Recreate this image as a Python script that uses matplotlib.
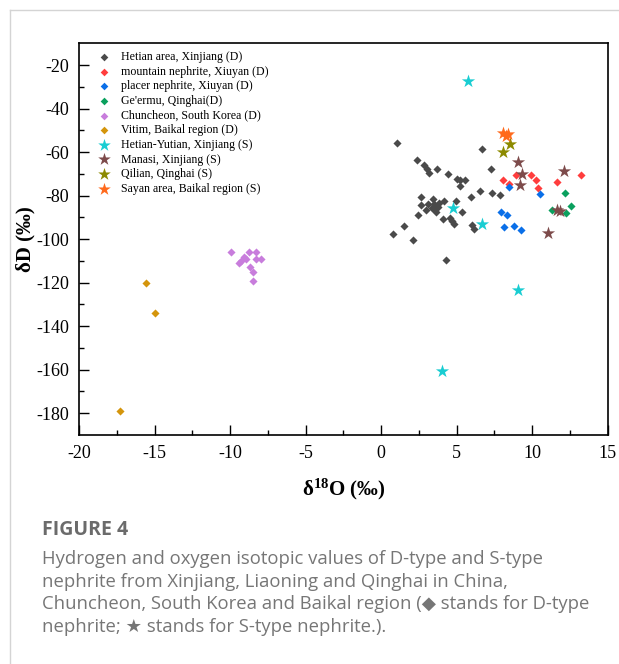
import matplotlib
matplotlib.use("Agg")
import matplotlib.pyplot as plt
from matplotlib.lines import Line2D

plt.rcParams["font.family"] = ["Liberation Serif", "DejaVu Serif"]
plt.rcParams["axes.unicode_minus"] = False
plt.rcParams["mathtext.fontset"] = "custom"
plt.rcParams["mathtext.rm"] = "Liberation Serif"
plt.rcParams["mathtext.bf"] = "Liberation Serif:bold"
plt.rcParams["mathtext.it"] = "Liberation Serif:italic"

# ---------------- data ----------------
hetian_x = [1.07, 6.67, 2.36, 2.84, 3.02, 3.19, 3.68, 4.45, 5.01, 5.19, 5.56, 5.23, 7.27, 6.56,
            5.96, 7.33, 7.84, 2.64, 2.62, 3.13, 3.44, 3.82, 4.18, 4.97, 2.94, 3.50, 3.66, 3.53,
            5.36, 2.46, 4.08, 4.57, 4.68, 4.82, 6.01, 6.12, 1.54, 0.76, 2.13, 4.28, 3.35, 3.75]
hetian_y = [-56.0, -58.4, -63.7, -66.1, -67.6, -69.5, -67.9, -69.9, -72.1, -73.0, -73.0, -75.7, -67.6, -77.7,
            -80.8, -78.8, -79.5, -80.8, -84.5, -83.8, -81.6, -83.4, -82.3, -82.6, -86.7, -86.3, -87.6, -84.0,
            -87.4, -88.8, -90.8, -90.2, -91.8, -93.2, -93.7, -95.3, -93.8, -97.6, -100.4, -109.5, -85.5, -85.0]

mountain_x = [8.04, 8.44, 8.93, 9.95, 10.26, 10.37, 11.65, 13.24]
mountain_y = [-72.6, -74.6, -70.6, -70.6, -72.6, -76.4, -73.6, -70.6]

placer_x = [8.44, 10.54, 7.95, 8.33, 8.15, 8.77, 9.26]
placer_y = [-76.0, -79.2, -87.3, -89.1, -94.5, -94.1, -95.8]

geermu_x = [12.16, 12.54, 11.31, 12.27]
geermu_y = [-78.8, -84.9, -86.8, -88.0]

korea_x = [-9.97, -8.76, -8.27, -9.11, -8.93, -9.26, -9.42, -8.27, -7.94, -8.67, -8.45, -8.45]
korea_y = [-106.0, -106.0, -106.0, -108.0, -109.0, -110.0, -111.0, -109.0, -109.0, -112.6, -115.0, -119.0]

vitim_x = [-15.57, -14.97, -17.30]
vitim_y = [-120.0, -134.0, -179.0]

yutian_x = [5.74, 4.73, 6.67, 9.04, 4.06]
yutian_y = [-27.4, -85.7, -93.1, -123.5, -160.5]

manasi_x = [9.04, 9.33, 9.22, 12.14, 11.05, 11.65, 11.87]
manasi_y = [-64.5, -70.2, -74.9, -68.7, -97.0, -86.6, -87.1]

qilian_x = [8.55, 8.04]
qilian_y = [-56.3, -59.9]

sayan_x = [8.10, 8.40, 8.25]
sayan_y = [-51.2, -51.8, -52.5]

labels = ["Hetian area, Xinjiang (D)", "mountain nephrite, Xiuyan (D)", "placer nephrite, Xiuyan (D)",
          "Ge'ermu, Qinghai(D)", "Chuncheon, South Korea (D)", "Vitim, Baikal region (D)",
          "Hetian-Yutian, Xinjiang (S)", "Manasi, Xinjiang (S)", "Qilian, Qinghai (S)",
          "Sayan area, Baikal region (S)"]

x_ticks = [-20, -15, -10, -5, 0, 5, 10, 15]
y_ticks = [-20, -40, -60, -80, -100, -120, -140, -160, -180]

caption_title = "FIGURE 4"
caption_lines = ["Hydrogen and oxygen isotopic values of D-type and S-type",
                 "nephrite from Xinjiang, Liaoning and Qinghai in China,",
                 "Chuncheon, South Korea and Baikal region (\u25c6 stands for D-type",
                 "nephrite; \u2605 stands for S-type nephrite.)."]

# ---------------- figure ----------------
W, H = 619, 664
fig = plt.figure(figsize=(W / 100, H / 100), dpi=100)
fig.patch.set_facecolor("white")

# card border lines
fig.add_artist(Line2D([10 / W, 10 / W], [0, 1 - 10 / H], color="#d4d4d4", lw=1.0))
fig.add_artist(Line2D([10 / W, 1], [1 - 10 / H, 1 - 10 / H], color="#d4d4d4", lw=1.0))

ax = fig.add_axes([79 / W, 1 - 435 / H, 528.7 / W, 391.6 / H])

d_kw = dict(marker="D", s=17, linewidths=0)
s_kw = dict(marker="*", s=100, linewidths=0)

series = [
    (hetian_x, hetian_y, "#4a4a4a", d_kw),
    (mountain_x, mountain_y, "#ff3d3d", d_kw),
    (placer_x, placer_y, "#0a6fe8", d_kw),
    (geermu_x, geermu_y, "#0aa05e", d_kw),
    (korea_x, korea_y, "#c87ddc", d_kw),
    (vitim_x, vitim_y, "#d4950c", d_kw),
    (yutian_x, yutian_y, "#19cdd2", s_kw),
    (manasi_x, manasi_y, "#7d4b4b", s_kw),
    (qilian_x, qilian_y, "#8c8a00", s_kw),
    (sayan_x, sayan_y, "#ff6a1c", s_kw),
]
for (xs, ys, c, kw), lab in zip(series, labels):
    ax.scatter(xs, ys, color=c, label=lab, zorder=3, **kw)

ax.set_xlim(-20, 15)
ax.set_ylim(-190, -10)
ax.set_xticks(x_ticks)
ax.set_yticks(y_ticks)
ax.set_xticks([-17.5, -12.5, -7.5, -2.5, 2.5, 7.5, 12.5], minor=True)
ax.set_yticks([-30, -50, -70, -90, -110, -130, -150, -170], minor=True)
ax.tick_params(which="major", direction="in", length=7, width=1.0, labelsize=13, pad=7)
ax.tick_params(which="minor", direction="in", length=3.5, width=1.0)
for sp in ax.spines.values():
    sp.set_linewidth(1.2)

ax.set_xlabel(r"δ$^{\mathbf{18}}$O (‰)", fontweight="bold", fontsize=15)
ax.set_ylabel("δD (‰)", fontweight="bold", fontsize=15)
ax.xaxis.set_label_coords(0.5, -(477 - 435) / 391.6)
ax.yaxis.set_label_coords(-(79 - 35) / 528.7, 0.5)

leg = ax.legend(loc="upper left", bbox_to_anchor=(0.019, 1.0), frameon=False,
                prop={"size": 8.6}, labelspacing=0.22,
                handletextpad=0.8, handlelength=1.2, borderaxespad=0.25, markerscale=0.95)

# caption
sans = "Open Sans"
fig.text(42 / W, 1 - 530 / H, caption_title, fontfamily=sans, fontweight="bold",
         fontsize=14, color="#6b6b6b", va="center", ha="left")
for i, line in enumerate(caption_lines):
    fig.text(42 / W, 1 - (559 + 22.6 * i) / H, line, fontfamily=[sans, "DejaVu Sans"],
             fontsize=13.3, color="#767676", va="center", ha="left")

fig.savefig("out.png", dpi=100, facecolor="white")
